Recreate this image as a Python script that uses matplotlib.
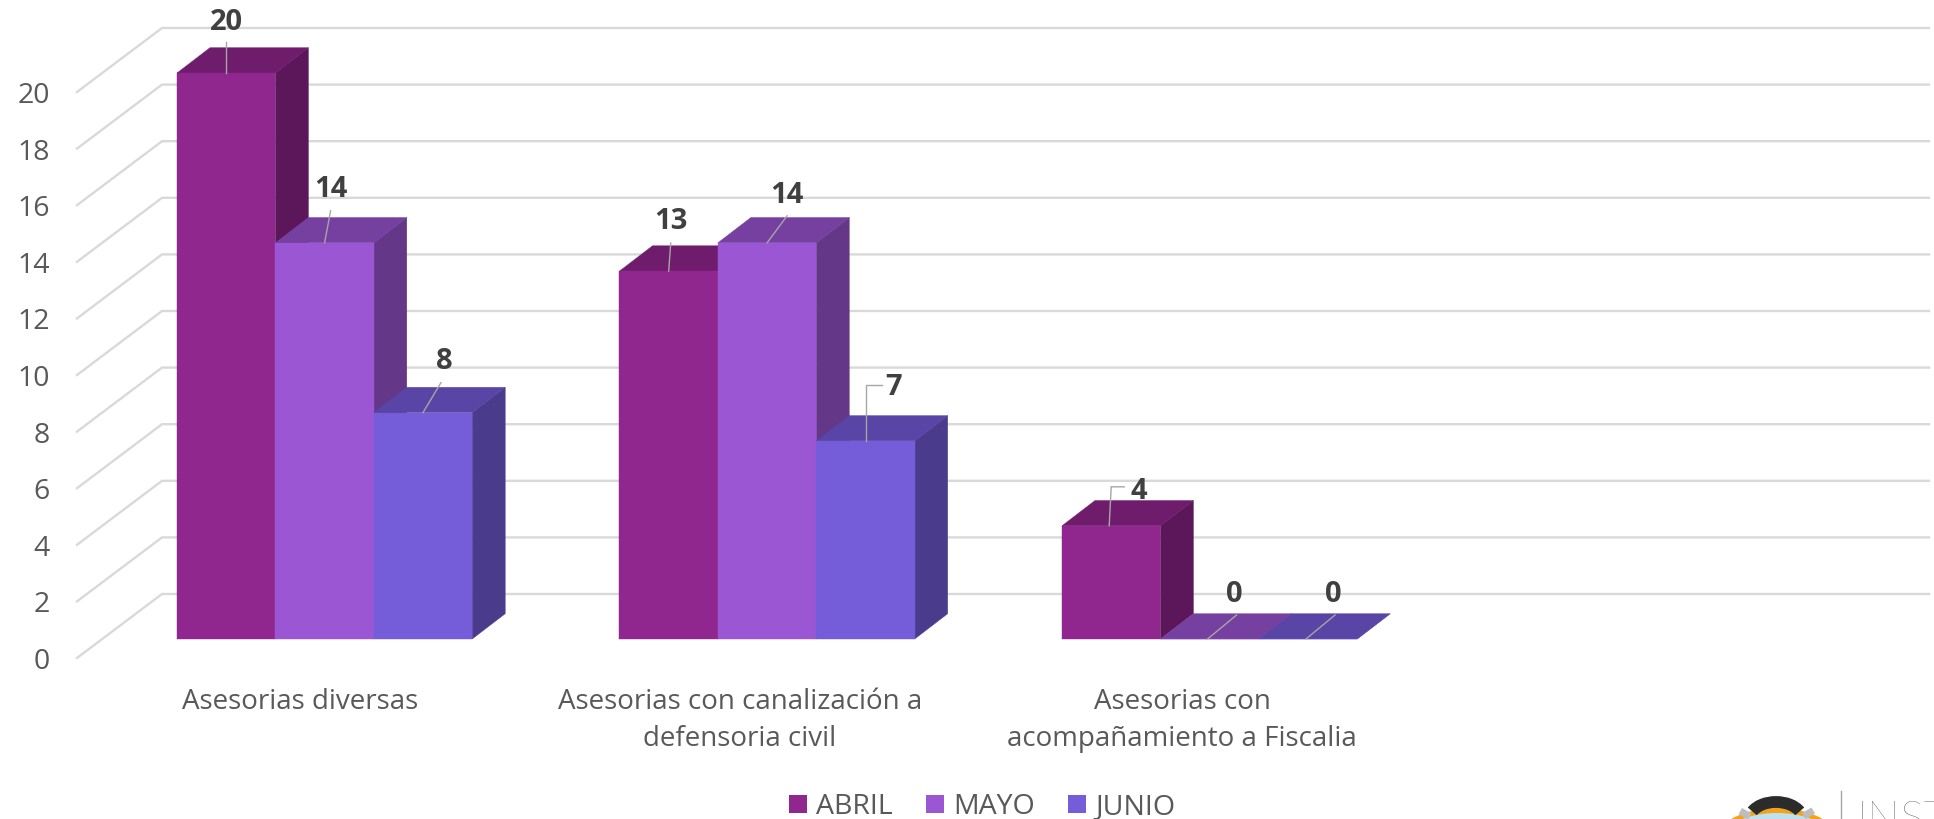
# -*- coding: utf-8 -*-
"""Asesorias por mes, columnas con efecto 3D al estilo Office."""
import matplotlib
matplotlib.use("Agg")
import matplotlib.pyplot as plt
from matplotlib.patches import Arc, Ellipse, Patch, Polygon, Rectangle

OUT = "out.png"
W, H = 1934, 819

categories = ["Asesorias diversas",
              "Asesorias con canalización a\ndefensoria civil",
              "Asesorias con\nacompañamiento a Fiscalia"]
months = ["ABRIL", "MAYO", "JUNIO"]
abril = [20, 13, 4]
mayo = [14, 14, 0]
junio = [8, 7, 0]
y_ticks = [0, 2, 4, 6, 8, 10, 12, 14, 16, 18, 20]

plt.rcParams["font.family"] = ["Open Sans", "DejaVu Sans"]

# pixels per unit on each axis
PX_X = 442.5
PX_Y = 28.3
X0 = 324.6   # px of first group centre
Y0 = 639.0   # px of bar base

front_cols = ["#90278E", "#9B57D3", "#755DD9"]
top_cols = ["#6F1C6D", "#75409F", "#5845A5"]
side_cols = ["#5C175B", "#643789", "#4A3B8D"]
GRID = "#D9D9D9"
LEAD = "#A6A6A6"
TXT = "#595959"
LBL = "#404040"


def dx(px):
    return px / PX_X


def dy(px):
    return px / PX_Y


fig = plt.figure(figsize=(W / 100, H / 100), dpi=100)
ax = fig.add_axes([0, 0, 1, 1])
ax.set_xlim(-X0 / PX_X, (W - X0) / PX_X)
ax.set_ylim((Y0 - H) / PX_Y, Y0 / PX_Y)
ax.axis("off")

# back wall and floor lines
wall_x = dx(162 - X0)
front_x = dx(77 - X0)
end_x = dx(1929 - X0)
wall_up = dy(639 - 594)
front_up = dy(639 - 658)
for t in y_ticks:
    ax.plot([front_x, wall_x, end_x],
            [t + front_up, t + wall_up, t + wall_up],
            color=GRID, lw=1.7, solid_joinstyle="miter", zorder=1)
    ax.text(dx(50 - X0), t + front_up - dy(4), str(t), ha="right", va="center",
            fontsize=20.5, color=TXT)

# bars
BAR = 98.4 / PX_X
DEPTH_X = dx(33)
DEPTH_Y = dy(25.3)
series = [abril, mayo, junio]
for s, values in enumerate(series):
    for c, v in enumerate(values):
        left = c + (s - 1.5) * BAR
        right = left + BAR
        z = 3 + s * 0.1 + c
        ax.add_patch(Polygon([(right, 0), (right + DEPTH_X, DEPTH_Y),
                              (right + DEPTH_X, v + DEPTH_Y), (right, v)],
                             fc=side_cols[s], ec=side_cols[s], lw=0.3, zorder=z))
        ax.add_patch(Polygon([(left, v), (left + DEPTH_X, v + DEPTH_Y),
                              (right + DEPTH_X, v + DEPTH_Y), (right, v)],
                             fc=top_cols[s], ec=top_cols[s], lw=0.3, zorder=z))
        ax.add_patch(Rectangle((left, 0), BAR, v, fc=front_cols[s], ec=front_cols[s],
                               lw=0.3, zorder=z))

# data labels, offsets in px from the top centre of each bar front
label_off = [[(0, -50), (2, -50), (28, -34)],
             [(6, -53), (20, -47), (25, -44)],
             [(21, -51), (28, -53), (25, -44)]]
lead_start = [0, 0, -2]
lead_end = [[(0, -31), (2, -28), (0, -39)],
            [(6, -32), (20, -27), (27, -24)],
            [(18, -30), (0, -56), (27, -24)]]
elbow_end = [[None, None, (13, -39)],
             [None, None, None],
             [None, (16, -56), None]]
for s, values in enumerate(series):
    for c, v in enumerate(values):
        cx = c + (s - 1) * BAR
        ox, oy = label_off[s][c]
        ax.text(cx + dx(ox), v - dy(oy), str(v), ha="center", va="center",
                fontsize=21, fontweight="bold", color=LBL, zorder=20)
        xs = [cx + dx(lead_start[c]), cx + dx(lead_end[s][c][0])]
        ys = [v, v - dy(lead_end[s][c][1])]
        if elbow_end[s][c] is not None:
            xs.append(cx + dx(elbow_end[s][c][0]))
            ys.append(v - dy(elbow_end[s][c][1]))
        ax.plot(xs, ys, color=LEAD, lw=1.0, zorder=19, solid_joinstyle="miter")

# category labels
cat_x = [300, 740, 1182]
for c, name in enumerate(categories):
    ax.text(dx(cat_x[c] - X0), dy(639 - 688), name, ha="center", va="top",
            fontsize=20, color=TXT, linespacing=1.42)

handles = [Patch(fc=front_cols[i], ec="none", label=months[i]) for i in range(3)]
leg = fig.legend(handles=handles, loc="center", ncol=3, frameon=False,
                 bbox_to_anchor=(982 / W, 1 - 807 / H), fontsize=20.5,
                 handlelength=0.63, handleheight=0.63, handletextpad=0.32,
                 columnspacing=1.17, labelcolor=TXT, borderpad=0, borderaxespad=0)

# logo cut off by the bottom edge, drawn in figure pixels
logo = fig.add_axes([0, 0, 1, 1], facecolor="none")
logo.set_xlim(0, W)
logo.set_ylim(H, 0)
logo.axis("off")
logo.add_patch(Ellipse((1777, 853), 140, 90, fc="#F2A31B", ec="none"))
logo.add_patch(Ellipse((1777, 853), 132, 80, fc="#BFE0EE", ec="none"))
logo.add_patch(Arc((1776, 820), 54, 36, theta1=200, theta2=340, color="#2B2B2B", lw=8.5))
logo.add_patch(Rectangle((1742, 808), 11, 7, angle=30, fc="#BDBDBD", ec="none"))
logo.add_patch(Rectangle((1802, 813), 11, 7, angle=-30, fc="#BDBDBD", ec="none"))
logo.plot([1841, 1841], [791, 819], color="#A6A6A6", lw=1)
logo.text(1857, 801, "INST", ha="left", va="top", fontsize=32, color="#595959",
          family=["Lato", "DejaVu Sans"], fontweight="light")

fig.savefig(OUT, dpi=100, facecolor="white")
